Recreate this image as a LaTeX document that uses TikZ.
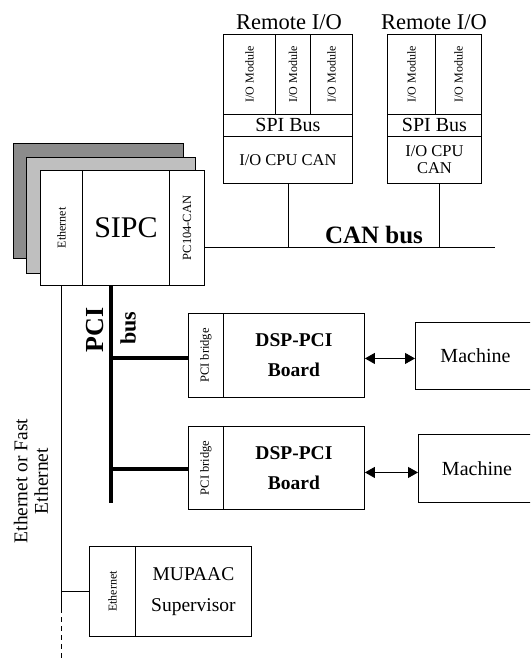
\documentclass[tikz,border=0pt]{standalone}
\usepackage{fontspec}
\setmainfont{Liberation Serif}
\usetikzlibrary{arrows.meta,calc}
\tikzset{
  box/.style={draw, line width=0.9pt, inner sep=0pt, anchor=north west, align=center},
  conn/.style={line width=0.9pt},
  busline/.style={line width=4pt},
  dbl/.style={line width=0.9pt, {Triangle[length=10pt,width=11pt]}-{Triangle[length=10pt,width=11pt]}},
  mid/.style={font=\fontsize{19.5}{30}\selectfont},
  midb/.style={font=\bfseries\fontsize{19.5}{30}\selectfont},
}
\begin{document}
\begin{tikzpicture}[x=1pt,y=-1pt]
\useasboundingbox (0,0) rectangle (530,661);
\clip (0,0) rectangle (530,661);
% SIPC stack
\node[box, fill=black!45, minimum width=170pt, minimum height=115pt] (back2) at (13,143) {};
\node[box, fill=black!25, minimum width=169pt, minimum height=116pt] (back1) at (26,157) {};
\node[box, fill=white, minimum width=42pt, minimum height=115pt] (seth) at (40,170) {\rotatebox{90}{\fontsize{12}{12}\selectfont Ethernet}};
\node[box, fill=white, minimum width=87pt, minimum height=115pt, font=\fontsize{30}{30}\selectfont] (sipc) at (82,170) {SIPC};
\node[box, fill=white, minimum width=35pt, minimum height=115pt] (pccan) at (169,170) {\rotatebox{90}{\fontsize{12.5}{12.5}\selectfont PC104-CAN}};
% Remote I/O 1
\node[font=\fontsize{22.5}{22.5}\selectfont] (t1) at (289,22) {Remote I/O};
\node[box, minimum width=52pt, minimum height=80pt] (m11) at (223,34) {\rotatebox{90}{\fontsize{12}{12}\selectfont I/O Module}};
\node[box, minimum width=35pt, minimum height=80pt] (m12) at (275,34) {\rotatebox{90}{\fontsize{12}{12}\selectfont I/O Module}};
\node[box, minimum width=42pt, minimum height=80pt] (m13) at (310,34) {\rotatebox{90}{\fontsize{12}{12}\selectfont I/O Module}};
\node[box, minimum width=129pt, minimum height=22pt, font=\fontsize{20}{20}\selectfont] (spi1) at (223,114) {SPI Bus};
\node[box, minimum width=129pt, minimum height=47pt, font=\fontsize{16.5}{17}\selectfont] (cpu1) at (223,136) {I/O CPU CAN};
% Remote I/O 2
\node[font=\fontsize{22.5}{22.5}\selectfont] (t2) at (434,22) {Remote I/O};
\node[box, minimum width=48pt, minimum height=80pt] (m21) at (387,34) {\rotatebox{90}{\fontsize{12}{12}\selectfont I/O Module}};
\node[box, minimum width=46pt, minimum height=80pt] (m22) at (435,34) {\rotatebox{90}{\fontsize{12}{12}\selectfont I/O Module}};
\node[box, minimum width=94pt, minimum height=22pt, font=\fontsize{20}{20}\selectfont] (spi2) at (387,114) {SPI Bus};
\node[box, minimum width=94pt, minimum height=47pt, font=\fontsize{16.5}{17}\selectfont] (cpu2) at (387,136) {I/O CPU\\CAN};
% CAN bus
\coordinate (canend) at (495,247);
\draw[conn] (pccan.east |- canend) -- (canend);
\draw[conn] ([xshift=0.5pt]cpu1.south) -- ([xshift=0.5pt]cpu1.south |- canend);
\draw[conn] ([xshift=5pt]cpu2.south) -- ([xshift=5pt]cpu2.south |- canend);
\node[anchor=base, font=\bfseries\fontsize{25}{25}\selectfont] (canlbl) at (374,243) {CAN bus};
% DSP boards
\node[box, minimum width=35pt, minimum height=84pt] (br1) at (188,313) {\rotatebox{90}{\fontsize{12.5}{12.5}\selectfont PCI bridge}};
\node[box, minimum width=141pt, minimum height=84pt, midb] (dsp1) at (223,313) {DSP-PCI\\Board};
\node[box, minimum width=35pt, minimum height=83pt] (br2) at (188,426) {\rotatebox{90}{\fontsize{12.5}{12.5}\selectfont PCI bridge}};
\node[box, minimum width=141pt, minimum height=83pt, midb] (dsp2) at (223,426) {DSP-PCI\\Board};
% Machines
\node[box, minimum width=120pt, minimum height=67pt, font=\fontsize{20}{20}\selectfont] (mach1) at (415,322) {Machine};
\node[box, minimum width=117pt, minimum height=68pt, font=\fontsize{20}{20}\selectfont] (mach2) at (418,434) {Machine};
\draw[dbl] ([yshift=-3pt]dsp1.east) -- ([yshift=-3pt]dsp1.east -| mach1.west);
\draw[dbl] ([yshift=-4.5pt]dsp2.east) -- ([yshift=-4.5pt]dsp2.east -| mach2.west);
% PCI bus
\coordinate (pcitop) at (111,285);
\coordinate (pcibot) at (111,503);
\draw[busline] (pcitop) -- (pcibot);
\draw[busline] ([yshift=-3pt]br1.west) -- ([yshift=-3pt]br1.west -| pcitop);
\draw[busline] ([yshift=-1.5pt]br2.west) -- ([yshift=-1.5pt]br2.west -| pcitop);
\node[rotate=90, font=\bfseries\fontsize{26}{26}\selectfont] (pcilbl) at (95,330) {PCI};
\node[rotate=90, font=\bfseries\fontsize{22}{22}\selectfont] (buslbl) at (128,328) {bus};
% MUPAAC
\node[box, minimum width=46pt, minimum height=90pt] (meth) at (89,546) {\rotatebox{90}{\fontsize{12}{12}\selectfont Ethernet}};
\node[box, minimum width=116pt, minimum height=90pt, font=\fontsize{19.5}{31}\selectfont] (mup) at (135,546) {MUPAAC\\Supervisor};
% Ethernet line
\coordinate (ethsolid) at (61,608);
\coordinate (ethend) at (61,661);
\draw[conn] (seth.south) -- (seth.south |- ethsolid);
\draw[conn, dashed, dash pattern=on 5pt off 4pt] (seth.south |- ethsolid) -- (seth.south |- ethend);
\draw[conn] (meth.west) -- (meth.west -| seth.south);
\node[rotate=90, align=center, font=\fontsize{19.5}{20.5}\selectfont] (ethlbl) at (31,481) {Ethernet or Fast\\Ethernet};
\end{tikzpicture}
\end{document}
